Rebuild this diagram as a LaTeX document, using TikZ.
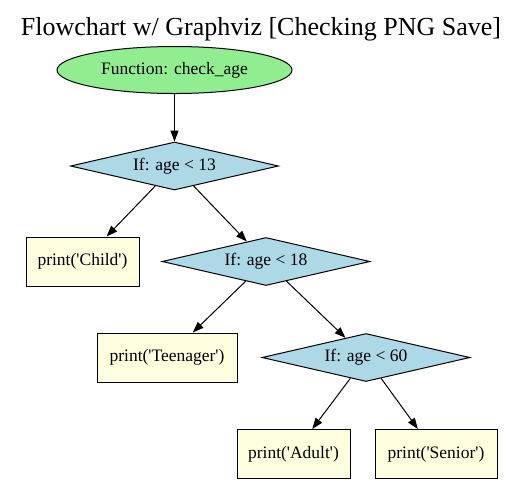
\documentclass[tikz,border=0pt]{standalone}
\usepackage{fontspec}
\setmainfont{Liberation Serif}
\usepackage{xcolor}
\usepackage{tikz}
\usetikzlibrary{
  arrows.meta,
  shapes.geometric
}
\definecolor{FnGreen}{HTML}{90EE90}
\definecolor{CondBlue}{HTML}{ADD8E6}
\definecolor{OutYellow}{HTML}{FFFFE0}
\newcommand{\sq}{\textquotesingle}

\tikzset{
  fnnode/.style={ellipse,draw,fill=FnGreen,minimum width=235pt,minimum height=47pt,
                 inner sep=0pt,font=\fontsize{17.5}{20}\selectfont},
  condnode/.style={diamond,aspect=4.33,draw,fill=CondBlue,minimum width=208pt,minimum height=48pt,
                   inner sep=0pt,font=\fontsize{17.5}{20}\selectfont},
  outnode/.style={rectangle,draw,fill=OutYellow,minimum height=49pt,
                  inner sep=0pt,font=\fontsize{17.5}{20}\selectfont},
  flow/.style={-{Triangle[length=11pt,width=8pt]},line width=1pt}
}

\begin{document}
\begin{tikzpicture}[x=1pt,y=-1pt,line width=1pt]
  \useasboundingbox (0,0) rectangle (522,483);

  % title
  \node[anchor=base,font=\fontsize{26}{30}\selectfont] (title) at (261,35)
    {Flowchart w/ Graphviz [Checking PNG Save]};

  % function and conditions
  \node[fnnode] (checkage) at (174.5,70) {Function: check\_age};
  \node[condnode] (ifthirteen) at (174.5,166) {If: age < 13};
  \node[condnode] (ifeighteen) at (266,261.5) {If: age < 18};
  \node[condnode] (ifsixty) at (366,357.5) {If: age < 60};

  % outputs
  \node[outnode,minimum width=113pt] (child) at (82.5,261.5) {print(\sq Child\sq)};
  \node[outnode,minimum width=140pt] (teen) at (167,357.5) {print(\sq Teenager\sq)};
  \node[outnode,minimum width=113pt] (adult) at (293.5,454) {print(\sq Adult\sq)};
  \node[outnode,minimum width=122pt] (senior) at (436,454) {print(\sq Senior\sq)};

  % edges
  \foreach \from/\to in {checkage/ifthirteen, ifthirteen/child, ifthirteen/ifeighteen,
                         ifeighteen/teen, ifeighteen/ifsixty, ifsixty/adult, ifsixty/senior}
    \draw[flow] (\from) -- (\to);
\end{tikzpicture}
\end{document}
